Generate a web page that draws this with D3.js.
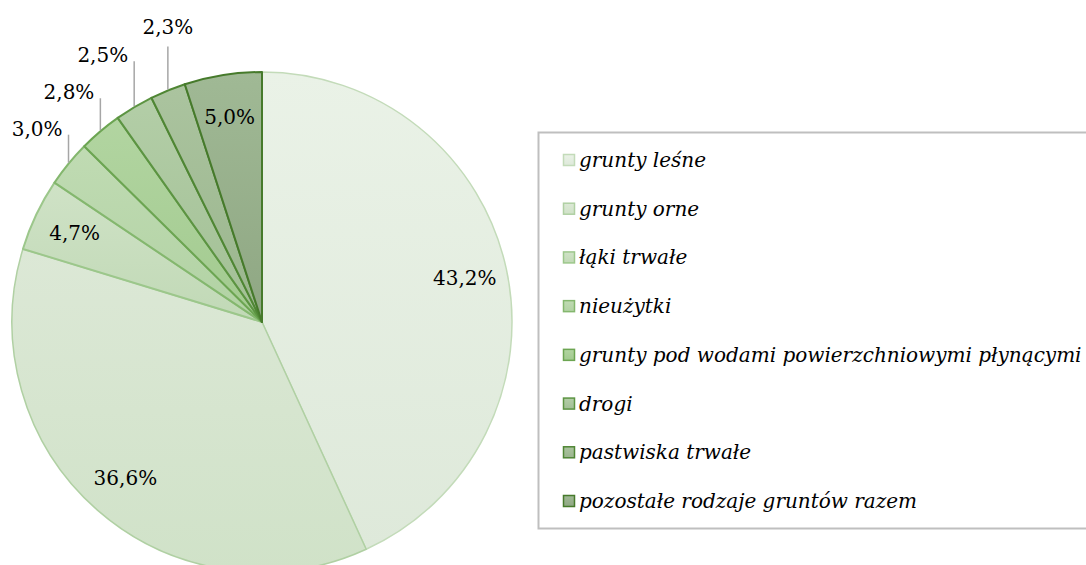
<!DOCTYPE html>
<html>
<head>
<meta charset="utf-8">
<script src="https://cdn.jsdelivr.net/npm/d3@7"></script>
<style>
  body { margin: 0; background: #fff; }
  svg { display: block; }
  .lbl { font-family: "DejaVu Serif", serif; font-size: 20px; fill: #000; }
  .leg text { font-family: "DejaVu Serif", serif; font-style: italic; font-size: 20px; fill: #000; }
</style>
</head>
<body>
<svg id="chart" width="1086" height="565"></svg>
<script>
// land use categories, clockwise from 12 o'clock
var categories = [
  "grunty leśne",
  "grunty orne",
  "łąki trwałe",
  "nieużytki",
  "grunty pod wodami powierzchniowymi płynącymi",
  "drogi",
  "pastwiska trwałe",
  "pozostałe rodzaje gruntów razem"
];
var shares = [43.2, 36.6, 4.7, 3.0, 2.8, 2.5, 2.3, 5.0];
var shareLabels = ["43,2%", "36,6%", "4,7%", "3,0%", "2,8%", "2,5%", "2,3%", "5,0%"];

// colours: top of gradient, bottom of gradient, outline
var colTop    = ["#eaf2e7", "#dce8d6", "#cfe2c6", "#c0dbb3", "#b2d5a1", "#b3cea7", "#abc49f", "#a0b995"];
var colBottom = ["#dee9da", "#d0e2c8", "#c1d9b6", "#b1d2a3", "#a2ca8f", "#a2bf95", "#9ab58d", "#8fa783"];
var colLine   = ["#c3dbb9", "#b0d0a3", "#9cc78b", "#84b76e", "#6ca552", "#5c9442", "#4f8634", "#467a2b"];

var svg = d3.select("#chart");
var cx = 262, cy = 322, R = 250;

var defs = svg.append("defs");
categories.forEach(function(c, i) {
  var g = defs.append("linearGradient")
    .attr("id", "grad" + i)
    .attr("x1", 0).attr("y1", 0).attr("x2", 0).attr("y2", 1);
  g.append("stop").attr("offset", "0%").attr("stop-color", colTop[i]);
  g.append("stop").attr("offset", "100%").attr("stop-color", colBottom[i]);
});

var pie = d3.pie().sort(null).value(function(d) { return d; });
var arcs = pie(shares);

var arc = d3.arc().innerRadius(0).outerRadius(R);
var labelArc = d3.arc().innerRadius(R * 0.83).outerRadius(R * 0.83);
var edgeArc = d3.arc().innerRadius(R).outerRadius(R);

var pieG = svg.append("g").attr("transform", "translate(" + cx + "," + cy + ")");

pieG.selectAll("path.slice")
  .data(arcs)
  .enter().append("path")
    .attr("class", "slice")
    .attr("d", arc)
    .attr("fill", function(d, i) { return "url(#grad" + i + ")"; })
    .attr("stroke", function(d, i) { return colLine[i]; })
    .attr("stroke-width", function(d, i) { return i < 2 ? 1.5 : 2; })
    .attr("stroke-linejoin", "round");

// which labels sit outside with a leader line, and how far the line rises
var outside = { 3: { lift: 29, anchor: "end" }, 4: { lift: 33, anchor: "end" },
                5: { lift: 46, anchor: "end" }, 6: { lift: 44, anchor: "middle" } };

arcs.forEach(function(d, i) {
  var o = outside[i];
  if (!o) {
    var c = labelArc.centroid(d);
    pieG.append("text")
      .attr("class", "lbl")
      .attr("x", c[0]).attr("y", c[1])
      .attr("text-anchor", "middle")
      .attr("dy", "0.35em")
      .text(shareLabels[i]);
    return;
  }
  var p = edgeArc.centroid(d);
  var topY = p[1] - o.lift;
  pieG.append("line")
    .attr("x1", p[0]).attr("y1", p[1] - 1)
    .attr("x2", p[0]).attr("y2", topY)
    .attr("stroke", "#a6a6a6")
    .attr("stroke-width", 1.5);
  pieG.append("text")
    .attr("class", "lbl")
    .attr("text-anchor", o.anchor)
    .attr("x", o.anchor == "end" ? p[0] - 6 : p[0])
    .attr("y", o.anchor == "end" ? topY + 1 : topY - 12)
    .text(shareLabels[i]);
});

// legend
var leg = svg.append("g").attr("class", "leg");
leg.append("rect")
  .attr("x", 538.5).attr("y", 132.5)
  .attr("width", 560).attr("height", 396)
  .attr("fill", "#fff")
  .attr("stroke", "#bfbfbf")
  .attr("stroke-width", 2);

var rowY = d3.scalePoint().domain(categories).range([160, 501]);

var item = leg.selectAll("g.item")
  .data(categories)
  .enter().append("g")
    .attr("class", "item")
    .attr("transform", function(d) { return "translate(563," + rowY(d) + ")"; });

item.append("rect")
  .attr("x", 0.5).attr("y", -5.5)
  .attr("width", 11).attr("height", 11)
  .attr("fill", function(d, i) { return "url(#grad" + i + ")"; })
  .attr("stroke", function(d, i) { return colLine[i]; })
  .attr("stroke-width", 1.5);

item.append("text")
  .attr("x", 16)
  .attr("dy", "0.35em")
  .text(function(d) { return d; });
</script>
</body>
</html>
